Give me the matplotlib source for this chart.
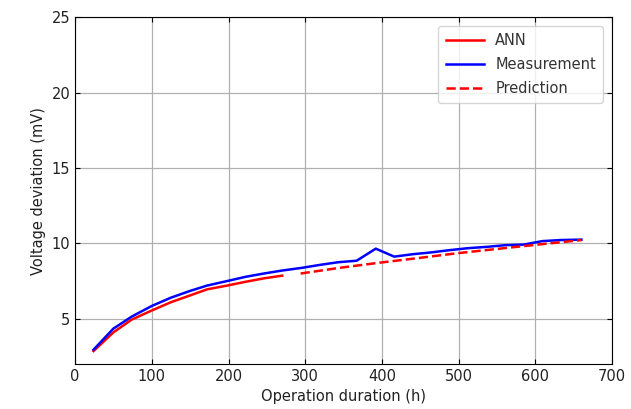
import numpy as np
import matplotlib.pyplot as plt

# ANN fit
ann_h = [24, 50, 74, 100, 125, 150, 172, 198, 222, 246, 270]
ann_mv = [2.86, 4.1, 4.95, 5.55, 6.1, 6.55, 6.95, 7.2, 7.45, 7.68, 7.86]

# measurement
meas_h = [24, 50, 74, 100, 125, 150, 172, 198, 222, 246, 270, 296, 320, 343,
          367, 392, 416, 440, 464, 488, 512, 537, 561, 585, 609, 633, 660]
meas_mv = [2.95, 4.35, 5.15, 5.85, 6.4, 6.85, 7.2, 7.5, 7.78, 8.0, 8.2, 8.38,
           8.58, 8.75, 8.85, 9.65, 9.12, 9.28, 9.4, 9.55, 9.68, 9.77, 9.88,
           9.92, 10.15, 10.22, 10.25]

# prediction
pred_h = [294, 345, 397, 448, 497, 548, 596, 660]
pred_mv = [8.0, 8.38, 8.72, 9.03, 9.34, 9.62, 9.88, 10.22]

fig = plt.figure(figsize=(6.31, 4.09), dpi=100)
ax = fig.add_axes([0.119, 0.11, 0.851, 0.848])
ax.plot(ann_h, ann_mv, color='red', lw=1.8, label='ANN')
ax.plot(meas_h, meas_mv, color='blue', lw=1.8, label='Measurement')
ax.plot(pred_h, pred_mv, color='red', lw=1.8, ls='--', label='Prediction')
ax.set_xlim(0, 700)
ax.set_ylim(2, 25)
ax.set_xticks(np.arange(0, 701, 100))
ax.set_yticks([5, 10, 15, 20, 25])
ax.tick_params(direction='in', top=True, right=True, labelsize=10.5,
               labelcolor='#222222')
ax.grid(True, color='#b0b0b0', lw=0.9)
ax.set_xlabel('Operation duration (h)', fontsize=10.5, color='#222222')
ax.set_ylabel('Voltage deviation (mV)', fontsize=10.5, color='#222222')
leg = ax.legend(loc='upper right', fontsize=10.5, handlelength=2.6,
                labelspacing=0.6, borderpad=0.5, borderaxespad=0.6)
for t in leg.get_texts():
    t.set_color('#333333')
fig.savefig('out.png')
